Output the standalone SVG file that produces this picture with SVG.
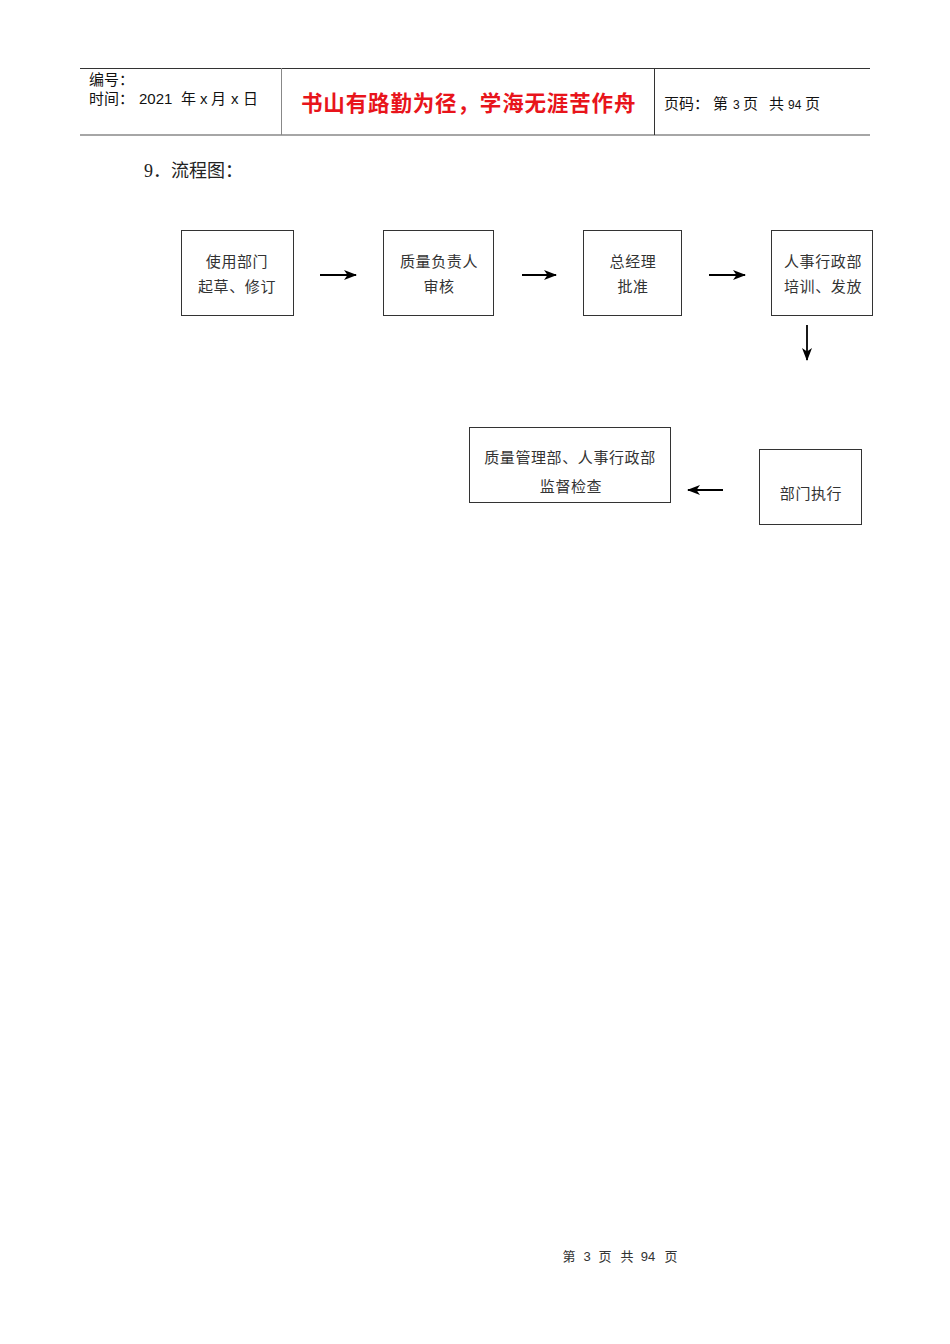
<svg xmlns="http://www.w3.org/2000/svg" width="950" height="1344" viewBox="0 0 950 1344">
<style>
.box{fill:#fff;stroke:#333;stroke-width:1}
.t{font-family:"Liberation Serif","Noto Sans CJK SC",serif;font-size:15px;fill:#333;text-anchor:middle;letter-spacing:0.6px}
.h{font-family:"Liberation Sans","Noto Sans CJK SC",sans-serif;font-size:15px;fill:#111}
.f{font-family:"Liberation Sans","Noto Sans CJK SC",sans-serif;font-size:13px;fill:#333;text-anchor:middle}
.c{stroke:#000;stroke-width:1.8;fill:none}
</style>
<defs>
<marker id="ah" markerWidth="13" markerHeight="10" refX="12" refY="5" orient="auto" markerUnits="userSpaceOnUse">
<path d="M0,0 L13,5 L0,10 L3.5,5 Z" fill="#000"/>
</marker>
</defs>
<rect width="950" height="1344" fill="#fff"/>
<g id="header">
<line x1="80" y1="68.5" x2="870" y2="68.5" stroke="#333" stroke-width="1"/>
<line x1="80" y1="135" x2="870" y2="135" stroke="#888" stroke-width="1.5"/>
<line x1="281.5" y1="68" x2="281.5" y2="135" stroke="#888" stroke-width="1"/>
<line x1="654.5" y1="68" x2="654.5" y2="135" stroke="#333" stroke-width="1"/>
<text class="h" x="89" y="85">编号：</text>
<text class="h" y="104"><tspan x="89">时间：</tspan><tspan x="139">2021</tspan><tspan x="181">年</tspan><tspan x="200">x</tspan><tspan x="211">月</tspan><tspan x="231">x</tspan><tspan x="243">日</tspan></text>
<text x="301" y="111" font-family="'Noto Sans CJK SC',sans-serif" font-size="21.5" font-weight="bold" fill="#e8141b" letter-spacing="0.85">书山有路勤为径，学海无涯苦作舟</text>
<text class="h" y="109"><tspan x="664">页码：</tspan><tspan x="713">第</tspan><tspan x="733" font-size="12">3</tspan><tspan x="743">页</tspan><tspan x="769">共</tspan><tspan x="788" font-size="12">94</tspan><tspan x="805">页</tspan></text>
</g>
<text x="144" y="177" font-family="'Liberation Serif','Noto Sans CJK SC',serif" font-size="18" fill="#222">9．流程图：</text>
<g id="n1"><rect class="box" x="181.5" y="230.5" width="112" height="85"/><text class="t" x="237" y="267">使用部门</text><text class="t" x="237" y="292">起草、修订</text></g>
<g id="n2"><rect class="box" x="383.5" y="230.5" width="110" height="85"/><text class="t" x="439" y="267">质量负责人</text><text class="t" x="439" y="292">审核</text></g>
<g id="n3"><rect class="box" x="583.5" y="230.5" width="98" height="85"/><text class="t" x="633" y="267">总经理</text><text class="t" x="633" y="292">批准</text></g>
<g id="n4"><rect class="box" x="771.5" y="230.5" width="101" height="85"/><text class="t" x="823" y="267">人事行政部</text><text class="t" x="823" y="292">培训、发放</text></g>
<g id="n5"><rect class="box" x="759.5" y="449.5" width="102" height="75"/><text class="t" x="811" y="499">部门执行</text></g>
<g id="n6"><rect class="box" x="469.5" y="427.5" width="201" height="75"/><text class="t" x="570" y="463">质量管理部、人事行政部</text><text class="t" x="571" y="492">监督检查</text></g>
<g id="connectors">
<line class="c" x1="320" y1="275" x2="356" y2="275" marker-end="url(#ah)"/>
<line class="c" x1="522" y1="275" x2="556" y2="275" marker-end="url(#ah)"/>
<line class="c" x1="709" y1="275" x2="745" y2="275" marker-end="url(#ah)"/>
<line class="c" x1="807" y1="325" x2="807" y2="360" marker-end="url(#ah)"/>
<line class="c" x1="723" y1="490" x2="688" y2="490" marker-end="url(#ah)"/>
</g>
<g id="footer">
<text class="f" x="569" y="1261">第</text><text class="f" x="587" y="1261">3</text><text class="f" x="605" y="1261">页</text><text class="f" x="627" y="1261">共</text><text class="f" x="648" y="1261">94</text><text class="f" x="671" y="1261">页</text>
</g>
</svg>
